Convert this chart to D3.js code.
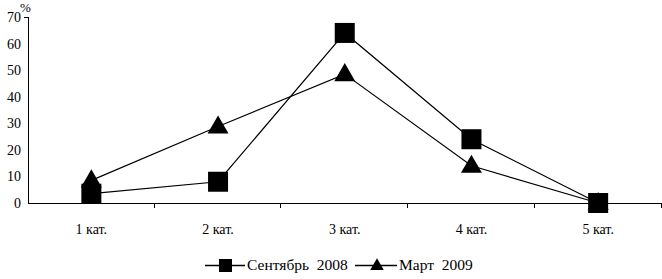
<!DOCTYPE html>
<html>
<head>
<meta charset="utf-8">
<script src="https://cdn.jsdelivr.net/npm/d3@7"></script>
<style>
  body { margin: 0; background: #fff; }
  svg text { font-family: "Liberation Serif", "Times New Roman", serif; fill: #000; }
</style>
</head>
<body>
<div id="chart"></div>
<script>
// dados
const categories = ["1 кат.", "2 кат.", "3 кат.", "4 кат.", "5 кат."];
const sept2008 = [3.5, 8, 64, 24, 0];
const mar2009 = [8.5, 28.8, 48.5, 14, 0];
const yTicks = [0, 10, 20, 30, 40, 50, 60, 70];
const seriesNames = ["Сентябрь\u00a0\u00a02008", "Март\u00a0\u00a02009"];

const W = 662, H = 279;
const margin = { top: 17, right: 0, bottom: 76, left: 28 };
const width = W - margin.left - margin.right;
const height = H - margin.top - margin.bottom;

const svg = d3.select("#chart").append("svg")
  .attr("width", W).attr("height", H);
const g = svg.append("g").attr("transform", `translate(${margin.left},${margin.top})`);

const x = d3.scaleBand().domain(categories).range([0, width - 0.5]);
const y = d3.scaleLinear().domain([0, 70]).range([height, 0]);

// eixo Y
g.append("line").attr("x1", 0.5).attr("x2", 0.5).attr("y1", 0).attr("y2", height)
  .attr("stroke", "#000");
g.append("line").attr("x1", -4).attr("x2", 0.5).attr("y1", 0.5).attr("y2", 0.5)
  .attr("stroke", "#000");
g.selectAll(".ylab").data(yTicks).enter().append("text")
  .attr("x", -7).attr("y", d => y(d) + 5)
  .attr("text-anchor", "end").style("font-size", "14px").text(d => d);
svg.append("text").attr("x", 20).attr("y", 12).style("font-size", "13px").text("%");

// eixo X
g.append("line").attr("x1", 0).attr("x2", width).attr("y1", height + 0.5).attr("y2", height + 0.5)
  .attr("stroke", "#000");
g.selectAll(".xtick").data(categories).enter().append("line")
  .attr("x1", d => Math.round(x(d) + x.bandwidth()) - 0.5)
  .attr("x2", d => Math.round(x(d) + x.bandwidth()) - 0.5)
  .attr("y1", height).attr("y2", height + 5).attr("stroke", "#000");
g.selectAll(".xlab").data(categories).enter().append("text")
  .attr("x", d => x(d) + x.bandwidth() / 2).attr("y", height + 31)
  .attr("text-anchor", "middle").style("font-size", "14px").text(d => d);

const cx = (d, i) => x(categories[i]) + x.bandwidth() / 2;
const line = d3.line().x(cx).y(d => y(d));

g.append("path").attr("d", line(sept2008)).attr("fill", "none").attr("stroke", "#000").attr("stroke-width", 1.2);
g.append("path").attr("d", line(mar2009)).attr("fill", "none").attr("stroke", "#000").attr("stroke-width", 1.2);

const tri = d3.symbol().type(d3.symbolTriangle).size(190);

g.selectAll(".tri").data(mar2009).enter().append("path")
  .attr("d", tri)
  .attr("transform", (d, i) => `translate(${cx(d, i)},${y(d) + 1})`)
  .attr("fill", "#000");
g.selectAll(".sq").data(sept2008).enter().append("rect")
  .attr("x", (d, i) => cx(d, i) - 10).attr("y", d => y(d) - 10)
  .attr("width", 20).attr("height", 20).attr("fill", "#000");

// legenda
const leg = svg.append("g");
leg.append("line").attr("x1", 205).attr("x2", 245).attr("y1", 265.5).attr("y2", 265.5).attr("stroke", "#000").attr("stroke-width", 1.5);
leg.append("rect").attr("x", 219).attr("y", 259).attr("width", 13).attr("height", 13).attr("fill", "#000");
leg.append("text").attr("x", 247).attr("y", 270).style("font-size", "15.5px").text(seriesNames[0]);
leg.append("line").attr("x1", 355).attr("x2", 397).attr("y1", 265.5).attr("y2", 265.5).attr("stroke", "#000").attr("stroke-width", 1.5);
leg.append("path").attr("d", d3.symbol().type(d3.symbolTriangle).size(80)).attr("transform", "translate(377,266)").attr("fill", "#000");
leg.append("text").attr("x", 399).attr("y", 270).style("font-size", "15.5px").text(seriesNames[1]);
</script>
</body>
</html>
